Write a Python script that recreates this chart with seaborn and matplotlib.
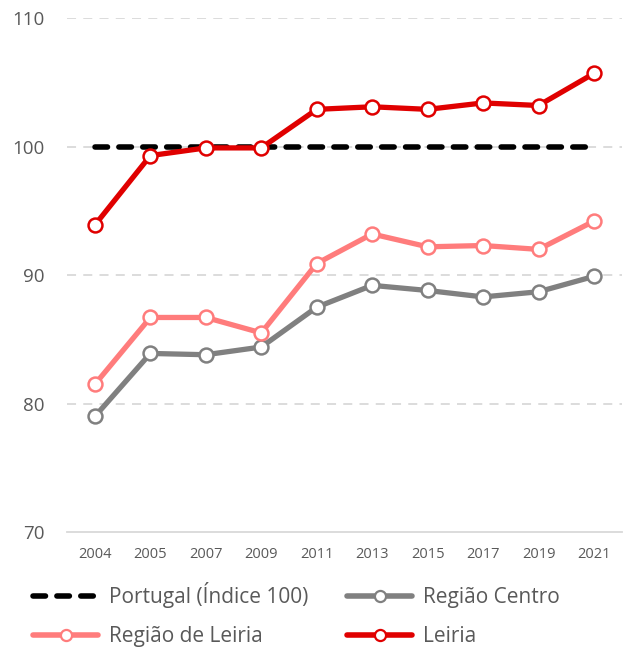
import pandas as pd
import matplotlib.pyplot as plt
import seaborn as sns
from matplotlib.lines import Line2D

years = ['2004', '2005', '2007', '2009', '2011', '2013', '2015', '2017', '2019', '2021']
portugal = [100, 100, 100, 100, 100, 100, 100, 100, 100, 100]
regiao_centro = [79.0, 83.9, 83.8, 84.4, 87.5, 89.2, 88.8, 88.3, 88.7, 89.9]
regiao_leiria = [81.5, 86.7, 86.7, 85.5, 90.9, 93.2, 92.2, 92.3, 92.0, 94.2]
leiria = [93.9, 99.3, 99.9, 99.9, 102.9, 103.1, 102.9, 103.4, 103.2, 105.7]

sns.set_style('white')
plt.rcParams['font.family'] = ['Open Sans', 'DejaVu Sans']
txt = '#595959'
dash = [2.25, 2.05]

fig = plt.figure(figsize=(6.28, 6.48), dpi=100)
ax = fig.add_axes([0.107, 0.179, 0.883, 0.793])

df = pd.DataFrame({'ano': years, 'Portugal': portugal, 'Centro': regiao_centro,
                   'RLeiria': regiao_leiria, 'Leiria': leiria})

sns.lineplot(data=df, x='ano', y='Portugal', ax=ax, color='black', lw=4,
             dashes=False, sort=False)
ax.lines[-1].set_dashes(dash)
ax.lines[-1].set_dash_capstyle('round')

mk = dict(marker='o', markersize=10, markerfacecolor='white', markeredgewidth=1.8,
          lw=3.8, sort=False)
for col, c in [('Centro', '#808080'), ('RLeiria', '#FF7C7C'), ('Leiria', '#E00000')]:
    sns.lineplot(data=df, x='ano', y=col, ax=ax, color=c, markeredgecolor=c, **mk)

ax.set_xlim(-0.5, 9.5)
ax.set_ylim(70, 110)
ax.set_yticks([70, 80, 90, 100, 110])
ax.set_xlabel('')
ax.set_ylabel('')
for y in [80, 90, 100, 110]:
    ax.axhline(y, color='#D9D9D9', lw=1.3, dashes=(5, 4), zorder=0)
for s in ['top', 'right', 'left']:
    ax.spines[s].set_visible(False)
ax.spines['bottom'].set_color('#D9D9D9')
ax.spines['bottom'].set_linewidth(1.3)
ax.tick_params(axis='y', labelsize=13.5, colors=txt, length=0, pad=16)
ax.tick_params(axis='x', labelsize=10.5, colors=txt, length=0, pad=11)

handles = [
    Line2D([], [], color='black', lw=4, dashes=dash, dash_capstyle='round'),
    Line2D([], [], color='#FF7C7C', lw=4, marker='o', markersize=8,
           markerfacecolor='white', markeredgecolor='#FF7C7C', markeredgewidth=1.6),
    Line2D([], [], color='#808080', lw=4, marker='o', markersize=8,
           markerfacecolor='white', markeredgecolor='#808080', markeredgewidth=1.6),
    Line2D([], [], color='#E00000', lw=4, marker='o', markersize=8,
           markerfacecolor='white', markeredgecolor='#E00000', markeredgewidth=1.6),
]
labels = ['Portugal (Índice 100)', 'Região de Leiria', 'Região Centro', 'Leiria']
leg = fig.legend(handles, labels, ncol=2, loc='upper left', bbox_to_anchor=(0.03, 0.124),
                 frameon=False, fontsize=15, handlelength=3.1, handletextpad=0.55,
                 columnspacing=1.85, labelspacing=0.85, borderpad=0.2)
for t in leg.get_texts():
    t.set_color(txt)

fig.savefig('out.png', dpi=100)
